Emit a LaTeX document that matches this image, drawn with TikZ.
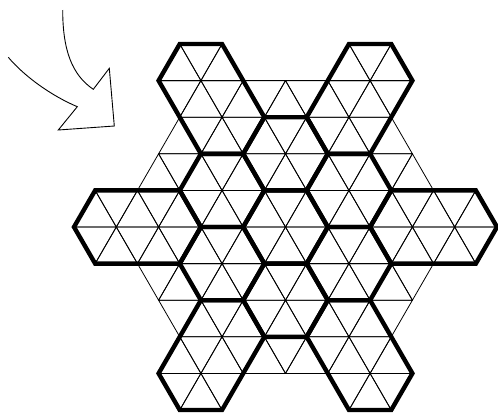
\documentclass[tikz,border=0pt]{standalone}
\begin{document}
\begin{tikzpicture}[x=1pt,y=-1pt,
  gridline/.style={line width=0.8pt, line join=round},
  hexline/.style={line width=4.4pt, line join=miter},
  arrowline/.style={line width=0.9pt, line join=miter}]
\useasboundingbox (0,0) rectangle (498,413);
% lattice points: row k (0..10), half-column q (0..20), q = p+10
\foreach \k in {0,...,10}{
  \foreach \q in {0,...,20}{
    \coordinate (v\k q\q) at ({285.5+21.15*(\q-10)},{44+36.6*\k});
  }
}
% thin triangular grid
\foreach \k/\a/\b in {0/5/7, 0/13/15, 1/5/15, 2/5/15, 3/4/16, 4/1/19,
                      5/1/19, 6/4/16, 7/5/15, 8/5/15, 9/5/7, 9/13/15}{
  \foreach \q in {\a,...,\b}{
    \pgfmathtruncatemacro\kk{\k+1}
    \pgfmathtruncatemacro\ql{\q-1}
    \pgfmathtruncatemacro\qr{\q+1}
    \pgfmathtruncatemacro\tpar{mod(\q+\k,2)}
    \ifnum\tpar=1
      \draw[gridline] (v\k q\q) -- (v\kk q\ql) -- (v\kk q\qr) -- cycle;
    \else
      \draw[gridline] (v\k q\ql) -- (v\k q\qr) -- (v\kk q\q) -- cycle;
    \fi
  }
}
% regular hexagons
\foreach \k/\q in {3/10, 4/7, 4/13, 5/10, 6/7, 6/13, 7/10}{
  \pgfmathtruncatemacro\ka{\k-1}
  \pgfmathtruncatemacro\kb{\k+1}
  \pgfmathtruncatemacro\qa{\q-2}
  \pgfmathtruncatemacro\qb{\q-1}
  \pgfmathtruncatemacro\qc{\q+1}
  \pgfmathtruncatemacro\qd{\q+2}
  \draw[hexline] (v\ka q\qb) -- (v\ka q\qc) -- (v\k q\qd) -- (v\kb q\qc)
     -- (v\kb q\qb) -- (v\k q\qa) -- cycle;
}
% elongated hexagons
\draw[hexline] (v0q5) -- (v0q7) -- (v2q9) -- (v3q8) -- (v3q6) -- (v1q4) -- cycle;
\draw[hexline] (v0q15) -- (v0q13) -- (v2q11) -- (v3q12) -- (v3q14) -- (v1q16) -- cycle;
\draw[hexline] (v4q1) -- (v4q5) -- (v5q6) -- (v6q5) -- (v6q1) -- (v5q0) -- cycle;
\draw[hexline] (v4q19) -- (v4q15) -- (v5q14) -- (v6q15) -- (v6q19) -- (v5q20) -- cycle;
\draw[hexline] (v10q5) -- (v10q7) -- (v8q9) -- (v7q8) -- (v7q6) -- (v9q4) -- cycle;
\draw[hexline] (v10q15) -- (v10q13) -- (v8q11) -- (v7q12) -- (v7q14) -- (v9q16) -- cycle;
% curved block arrow
\coordinate (aTop) at (62.7,10);
\coordinate (aJoinA) at (93.3,89.3);
\coordinate (aBarbA) at (109.3,68.3);
\coordinate (aTip) at (114.3,126);
\coordinate (aBarbB) at (58.3,130);
\coordinate (aJoinB) at (77.3,106.7);
\coordinate (aTail) at (8.3,57.3);
\draw[arrowline] (aTop) .. controls (62.7,50) and (72,75) .. (aJoinA)
  -- (aBarbA) -- (aTip) -- (aBarbB) -- (aJoinB)
  .. controls (52,96) and (25,77) .. (aTail);
\end{tikzpicture}
\end{document}
